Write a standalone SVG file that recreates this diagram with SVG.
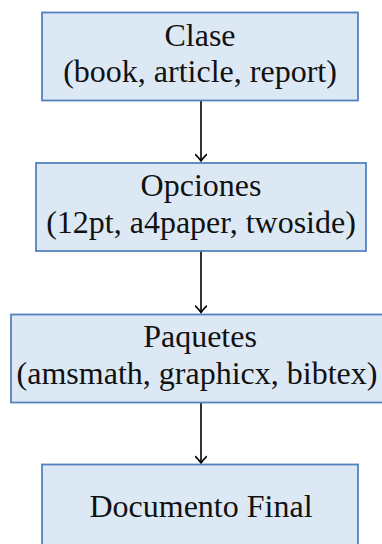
<svg xmlns="http://www.w3.org/2000/svg" width="382" height="544" viewBox="0 0 382 544">
<style>
.box{fill:#dce9f5;stroke:#5482c0;stroke-width:1.8}
.t{font-family:'Liberation Serif','Times New Roman',serif;font-size:32px;fill:#111;text-anchor:middle}
.c{stroke:#000;stroke-width:1.6;fill:none}
</style>
<defs>
<marker id="ah" viewBox="-8 -6 10 12" markerWidth="10" markerHeight="12" refX="0" refY="0" orient="auto" markerUnits="userSpaceOnUse">
<path d="M-6.5,-5.5 Q-2,-1 0,0 Q-2,1 -6.5,5.5" fill="none" stroke="#000" stroke-width="1.6" stroke-linecap="round"/>
</marker>
</defs>
<g id="connectors">
<line class="c" x1="201" y1="100.5" x2="201" y2="161" marker-end="url(#ah)"/>
<line class="c" x1="201" y1="251" x2="201" y2="312.5" marker-end="url(#ah)"/>
<line class="c" x1="201" y1="402.5" x2="201" y2="463" marker-end="url(#ah)"/>
</g>
<g id="clase">
<rect class="box" x="42" y="12.5" width="316" height="88"/>
<text class="t" x="200" y="46">Clase</text>
<text class="t" x="200" y="82">(book, article, report)</text>
</g>
<g id="opciones">
<rect class="box" x="36" y="163" width="330" height="88"/>
<text class="t" x="201" y="196">Opciones</text>
<text class="t" x="201" y="233">(12pt, a4paper, twoside)</text>
</g>
<g id="paquetes">
<rect class="box" x="11" y="314.5" width="382" height="88"/>
<text class="t" x="200" y="347">Paquetes</text>
<text class="t" x="197" y="384">(amsmath, graphicx, bibtex)</text>
</g>
<g id="documento">
<rect class="box" x="42" y="464.5" width="316" height="88"/>
<text class="t" x="201" y="517">Documento Final</text>
</g>
</svg>
